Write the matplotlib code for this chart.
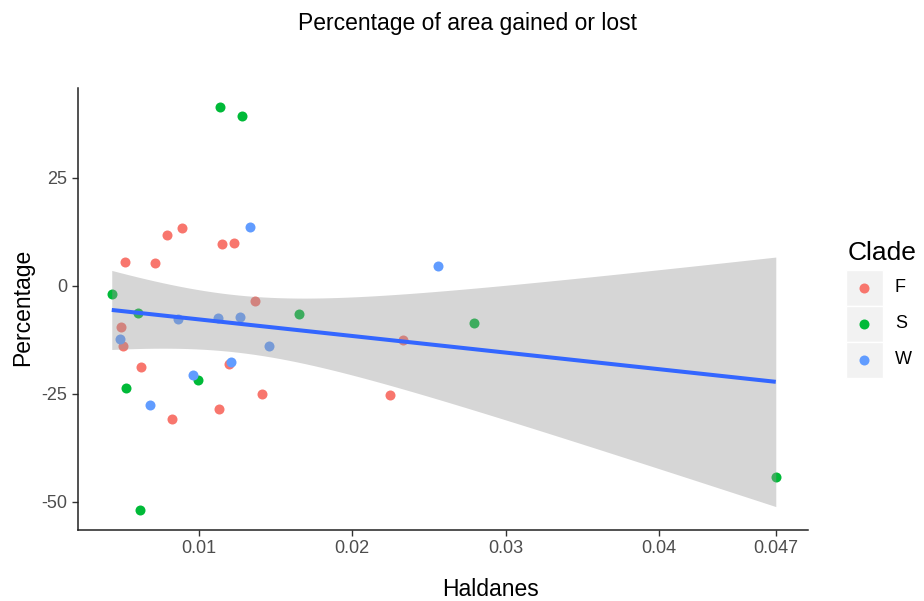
import numpy as np
import matplotlib
matplotlib.use("Agg")
from matplotlib import pyplot as plt
from matplotlib.patches import Rectangle

plt.rcParams['font.family'] = ['Liberation Sans', 'DejaVu Sans']
plt.rcParams['axes.unicode_minus'] = False

# data
clades = ['F', 'S', 'W']
colors = ['#F8766D', '#00BA38', '#619CFF']

f_x = [0.00889, 0.00793, 0.01149, 0.01227, 0.00519, 0.00717, 0.01364, 0.00493,
       0.00504, 0.01195, 0.00623, 0.0141, 0.01133, 0.00825, 0.02332, 0.02246]
f_y = [13.5, 11.8, 9.6, 9.9, 5.6, 5.2, -3.5, -9.6,
       -13.9, -18.1, -18.8, -25.1, -28.5, -30.7, -12.5, -25.2]

s_x = [0.01136, 0.0128, 0.00433, 0.00606, 0.01655, 0.00997, 0.00524, 0.00617,
       0.02796, 0.0476]
s_y = [41.4, 39.3, -1.9, -6.3, -6.4, -21.8, -23.7, -51.9, -8.6, -44.3]

w_x = [0.01334, 0.00866, 0.01123, 0.01268, 0.00489, 0.01457, 0.0121, 0.0096,
       0.00684, 0.02556]
w_y = [13.6, -7.6, -7.5, -7.1, -12.3, -13.8, -17.6, -20.7, -27.5, 4.55]

xs = [f_x, s_x, w_x]
ys = [f_y, s_y, w_y]

x_ticks = [0.01, 0.02, 0.03, 0.04, 0.0476]
x_tick_labels = ['0.01', '0.02', '0.03', '0.04', '0.047']
y_ticks = [-50, -25, 0, 25]

fig = plt.figure(figsize=(9.24, 6.01), dpi=100)
ax = fig.add_axes([78 / 924, 1 - 530 / 601, 730 / 924, 442 / 601])

for cx, cy, col in zip(xs, ys, colors):
    ax.scatter(cx, cy, s=52, color=col, linewidths=0, zorder=2)

# linear fit with 95% band, like geom_smooth(method = "lm")
allx = np.array(f_x + s_x + w_x)
ally = np.array(f_y + s_y + w_y)
n = len(allx)
slope, intercept = np.polyfit(allx, ally, 1)
resid = ally - (slope * allx + intercept)
sigma = np.sqrt(np.sum(resid ** 2) / (n - 2))
gx = np.linspace(allx.min(), allx.max(), 80)
gy = slope * gx + intercept
se = sigma * np.sqrt(1 / n + (gx - allx.mean()) ** 2 / np.sum((allx - allx.mean()) ** 2))
t = 2.032
ax.fill_between(gx, gy - t * se, gy + t * se, color='#999999', alpha=0.4,
                linewidth=0, zorder=3)
ax.plot(gx, gy, color='#3366FF', linewidth=2.9, zorder=4, solid_capstyle='butt')

ax.set_xlim(0.00213, 0.0497)
ax.set_ylim(-56.5, 45.8)
ax.set_xticks(x_ticks)
ax.set_xticklabels(x_tick_labels)
ax.set_yticks(y_ticks)
ax.tick_params(labelsize=13, labelcolor='#4D4D4D', color='#333333', length=4, width=1)
for side in ['top', 'right']:
    ax.spines[side].set_visible(False)
for side in ['left', 'bottom']:
    ax.spines[side].set_color('#222222')
    ax.spines[side].set_linewidth(1.1)

fig.text(491 / 924, 1 - 589 / 601, 'Haldanes', fontsize=16.5, ha='center', va='center')
fig.text(23 / 924, 1 - 307.5 / 601, 'Percentage', fontsize=16.5, ha='center',
         va='center', rotation=90)
fig.text(467 / 924, 1 - 23.5 / 601, 'Percentage of area gained or lost',
         fontsize=16.5, ha='center', va='center')

# legend drawn by hand, ggplot style
fig.text(848 / 924, 1 - 253 / 601, 'Clade', fontsize=19, ha='left', va='center')
for i, (lab, col) in enumerate(zip(clades, colors)):
    ky = 270 + i * 36
    fig.patches.append(Rectangle((846 / 924, 1 - (ky + 36) / 601), 37 / 924, 36 / 601,
                                 transform=fig.transFigure, facecolor='#F2F2F2',
                                 edgecolor='white', linewidth=1))
    fig.add_artist(plt.Line2D([864 / 924], [1 - (ky + 18) / 601], marker='o',
                              markersize=7.2, color=col, markeredgewidth=0,
                              transform=fig.transFigure))
    fig.text(895 / 924, 1 - (ky + 18) / 601, lab, fontsize=13, ha='left', va='center')

fig.savefig('out.png', dpi=100)
